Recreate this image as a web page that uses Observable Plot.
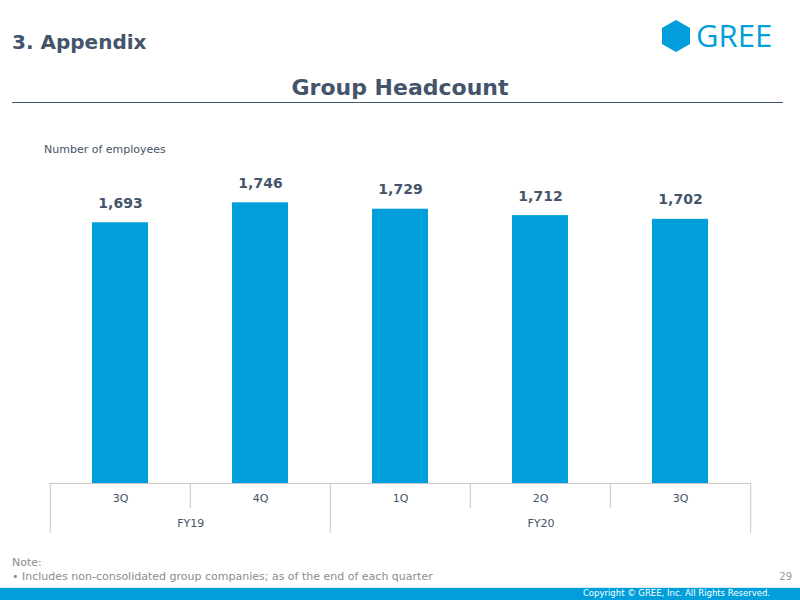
<!DOCTYPE html>
<html>
<head>
<meta charset="utf-8">
<script src="https://cdn.jsdelivr.net/npm/d3@7"></script>
<script src="https://cdn.jsdelivr.net/npm/@observablehq/plot@0.6"></script>
<style>
  html, body { margin: 0; padding: 0; background: #fff; }
  #page { position: relative; width: 800px; height: 600px; overflow: hidden; font-family: "DejaVu Sans", Verdana, sans-serif; color: #44546a; }
  .abs { position: absolute; white-space: nowrap; }
  #section { left: 12px; top: 30px; font-size: 20px; font-weight: bold; }
  #title { left: 0; width: 800px; top: 75px; text-align: center; font-size: 22px; font-weight: bold; }
  #rule { left: 12px; top: 102px; width: 771px; height: 1px; background: #44546a; }
  #unit { left: 44px; top: 143px; font-size: 11px; color: #44546a; }
  #note { left: 12px; top: 556px; font-size: 11px; line-height: 14px; color: #8c8c8c; }
  #page-no { right: 8px; top: 571px; font-size: 10px; color: #9a9a9a; }
  #footer { left: 0; top: 587px; width: 800px; height: 13px; background: #009fdb; border-top: 1px solid #d6eef8; }
  #copy { right: 30px; top: 588px; font-size: 8.5px; color: #fff; }
  #logo { left: 660px; top: 10px; }
  #bars { left: 0; top: 140px; }
  #table { left: 0; top: 483px; }
</style>
</head>
<body>
<div id="page">
  <div class="abs" id="section">3. Appendix</div>
  <svg class="abs" id="logo" width="136" height="50" viewBox="0 0 136 50">
    <polygon points="16,10 30,18 30,34 16,42 2,34 2,18" fill="#009fdb"/>
    <text x="36" y="37" font-family="'Open Sans', sans-serif" font-size="31" font-weight="500" fill="#009fdb">GREE</text>
  </svg>
  <div class="abs" id="title">Group Headcount</div>
  <div class="abs" id="rule"></div>
  <div class="abs" id="unit">Number of employees</div>
  <div class="abs" id="bars"></div>
  <div class="abs" id="table"></div>
  <div class="abs" id="note">Note:<br>• Includes non-consolidated group companies; as of the end of each quarter</div>
  <div class="abs" id="page-no">29</div>
  <div class="abs" id="footer"></div>
  <div class="abs" id="copy">Copyright © GREE, Inc. All Rights Reserved.</div>
</div>
<script>
// Group headcount at the end of each quarter
const quarters = ["3Q", "4Q", "1Q", "2Q", "3Q"];
const fiscalYears = ["FY19", "FY19", "FY20", "FY20", "FY20"];
const headcount = [1693, 1746, 1729, 1712, 1702];

const rows = quarters.map((q, i) => ({
  key: fiscalYears[i] + " " + q,
  quarter: q,
  fy: fiscalYears[i],
  value: headcount[i],
  first: i === 0 || fiscalYears[i] !== fiscalYears[i - 1],
  last: i === quarters.length - 1
}));
const keys = rows.map(d => d.key);

// Shared horizontal layout for the bars and the category table
const W = 800, ML = 49, MR = 49;
const step = (W - ML - MR) / keys.length;
const xScale = {type: "band", domain: keys, paddingInner: 0.6, paddingOuter: 0.3};
const blue = "#009fdb";
const ink = "#44546a";
const grid = "#c8c8c8";
const font = "'DejaVu Sans', Verdana, sans-serif";

const bars = Plot.plot({
  width: W, height: 343,
  marginLeft: ML, marginRight: MR, marginTop: 42, marginBottom: 0,
  x: {...xScale, axis: null},
  y: {domain: [1000, 1800], axis: null},
  style: {fontFamily: font, background: "transparent"},
  marks: [
    Plot.barY(rows, {x: "key", y1: 1000, y2: "value", fill: blue}),
    Plot.text(rows, {
      x: "key", y: "value", text: d => d3.format(",")(d.value),
      lineAnchor: "bottom", dy: -15, fontSize: 14, fontWeight: "bold", fill: ink
    })
  ]
});
document.getElementById("bars").appendChild(bars);

// Two-row category table: quarter row on top, fiscal-year row beneath
const yearGroups = d3.groups(rows, d => d.fy).map(([fy, g]) => ({fy, key: g[0].key, n: g.length}));
const quarterEdges = rows.filter(d => !d.first);
const yearEdges = rows.filter(d => d.first);

const table = Plot.plot({
  width: W, height: 52,
  marginLeft: ML, marginRight: MR, marginTop: 0, marginBottom: 2,
  x: {...xScale, axis: null},
  y: {domain: [0, 2], range: [0, 50], axis: null},
  style: {fontFamily: font, background: "transparent"},
  marks: [
    Plot.ruleY([0], {stroke: grid}),
    Plot.ruleX(quarterEdges, {x: "key", dx: -step / 2, y1: 0, y2: 1, stroke: grid}),
    Plot.ruleX(yearEdges, {x: "key", dx: -step / 2, y1: 0, y2: 2, stroke: grid}),
    Plot.ruleX(rows.filter(d => d.last), {x: "key", dx: step / 2, y1: 0, y2: 2, stroke: grid}),
    Plot.text(rows, {x: "key", y: 0.5, dy: 2, text: "quarter", fontSize: 11, fill: ink}),
    // each fiscal-year label sits centred across its own quarters
    ...yearGroups.map(g => Plot.text([g], {
      x: "key", y: 1.5, dy: 2, text: "fy", fontSize: 11, fill: ink, dx: (g.n - 1) * step / 2
    }))
  ]
});
document.getElementById("table").appendChild(table);
</script>
</body>
</html>
